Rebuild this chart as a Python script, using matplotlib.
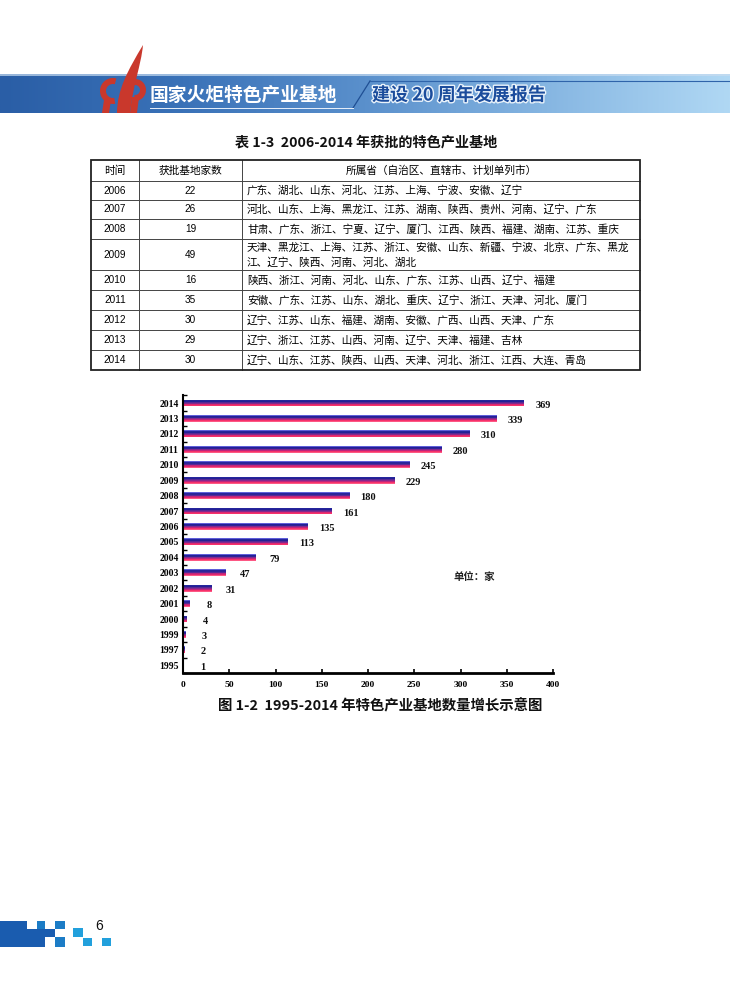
import numpy as np
import matplotlib
matplotlib.use("Agg")
import matplotlib.pyplot as plt
from matplotlib.patches import Rectangle, Wedge, PathPatch, Polygon
from matplotlib.path import Path
from matplotlib.colors import LinearSegmentedColormap
import matplotlib.patheffects as pe

plt.rcParams['font.family'] = ['Noto Sans CJK SC', 'DejaVu Sans']

# ---- chart data: cumulative number of bases ----
years = ['1995', '1997', '1999', '2000', '2001', '2002', '2003', '2004', '2005',
         '2006', '2007', '2008', '2009', '2010', '2011', '2012', '2013', '2014']
totals = [1, 2, 3, 4, 8, 31, 47, 79, 113, 135, 161, 180, 229, 245, 280, 310, 339, 369]
x_ticks = [0, 50, 100, 150, 200, 250, 300, 350, 400]

# ---- table data: bases approved 2006-2014 ----
tbl_header = ['时间', '获批基地家数', '所属省（自治区、直辖市、计划单列市）']
tbl_years = ['2006', '2007', '2008', '2009', '2010', '2011', '2012', '2013', '2014']
tbl_counts = ['22', '26', '19', '49', '16', '35', '30', '29', '30']
tbl_provinces = [
    '广东、湖北、山东、河北、江苏、上海、宁波、安徽、辽宁',
    '河北、山东、上海、黑龙江、江苏、湖南、陕西、贵州、河南、辽宁、广东',
    '甘肃、广东、浙江、宁夏、辽宁、厦门、江西、陕西、福建、湖南、江苏、重庆',
    '天津、黑龙江、上海、江苏、浙江、安徽、山东、新疆、宁波、北京、广东、黑龙江、辽宁、陕西、河南、河北、湖北',
    '陕西、浙江、河南、河北、山东、广东、江苏、山西、辽宁、福建',
    '安徽、广东、江苏、山东、湖北、重庆、辽宁、浙江、天津、河北、厦门',
    '辽宁、江苏、山东、福建、湖南、安徽、广西、山西、天津、广东',
    '辽宁、浙江、江苏、山西、河南、辽宁、天津、福建、吉林',
    '辽宁、山东、江苏、陕西、山西、天津、河北、浙江、江西、大连、青岛',
]

W, H = 730, 984
fig = plt.figure(figsize=(W / 100, H / 100), dpi=100)
fig.patch.set_facecolor('white')

# page layer in pixel coordinates (origin top-left)
pg = fig.add_axes([0, 0, 1, 1], zorder=0)
pg.set_xlim(0, W)
pg.set_ylim(H, 0)
pg.axis('off')

# ---------------- running header ----------------
band = LinearSegmentedColormap.from_list(
    'band', ['#2a5ea6', '#3a72b8', '#5a90cc', '#86b6e2', '#b0d8f4'])
grad = np.linspace(0, 1, 256).reshape(1, -1)
pg.imshow(grad, cmap=band, extent=(0, W, 113, 74), aspect='auto', zorder=1)
pg.add_patch(Rectangle((0, 74), W, 2, color='#c8dcf0', alpha=0.7, zorder=2, lw=0))
# slanted divider and rules
pg.plot([353, 370], [108, 81], color='#1f4f94', lw=0.9, zorder=3)
pg.plot([370, W], [81, 81], color='#2f64aa', lw=0.8, zorder=3)
pg.plot([150, 353], [108, 108], color='#e8f0fa', lw=0.7, zorder=3)

# torch logo
red = '#c9382c'
flame = Path([(117, 113),
              (117, 90), (128, 70), (143, 45),
              (141, 66), (133, 84), (130, 113),
              (117, 113)],
             [Path.MOVETO, Path.CURVE4, Path.CURVE4, Path.CURVE4,
              Path.CURVE4, Path.CURVE4, Path.CURVE4, Path.CLOSEPOLY])
pg.add_patch(PathPatch(flame, fc=red, ec='none', zorder=4))
pg.add_patch(Wedge((113, 91), 13, 80, 285, width=6, fc=red, ec='none', zorder=4))
pg.add_patch(Wedge((135, 90), 11, -110, 95, width=6, fc=red, ec='none', zorder=4))
pg.add_patch(Polygon([(104, 100), (111, 100), (109, 113), (102, 113)],
                     closed=True, fc=red, ec='none', zorder=4))
pg.add_patch(Polygon([(132, 97), (139, 97), (137, 113), (130, 113)],
                     closed=True, fc=red, ec='none', zorder=4))

pg.text(150, 95, '国家火炬特色产业基地', color='white', fontsize=13.5,
        fontweight='bold', va='center', ha='left', zorder=5)
pg.text(372, 95, '建设 20 周年发展报告', color='#1b4c9c', fontsize=13,
        fontweight='bold', va='center', ha='left', zorder=5,
        path_effects=[pe.withStroke(linewidth=2, foreground='#eaf3fb')])

# ---------------- table ----------------
pg.text(366, 143, '表 1-3  2006-2014 年获批的特色产业基地', fontsize=10.2,
        fontweight='bold', ha='center', va='center', color='#111111')

col_x = [91, 139, 242, 640]
row_y = [160, 181, 200, 219, 239, 270, 290, 310, 330, 350, 370]
for yv in row_y[1:-1]:
    pg.plot([col_x[0], col_x[-1]], [yv, yv], color='#444444', lw=0.7, zorder=3)
for xv in col_x[1:-1]:
    pg.plot([xv, xv], [row_y[0], row_y[-1]], color='#444444', lw=0.7, zorder=3)
pg.add_patch(Rectangle((col_x[0], row_y[0]), col_x[-1] - col_x[0],
                       row_y[-1] - row_y[0], fill=False, ec='#222222',
                       lw=1.3, zorder=4))

cell_fs = 7.7
num_fs = 7.2
hy = (row_y[0] + row_y[1]) / 2
pg.text((col_x[0] + col_x[1]) / 2, hy, tbl_header[0], fontsize=cell_fs,
        ha='center', va='center')
pg.text((col_x[1] + col_x[2]) / 2, hy, tbl_header[1], fontsize=cell_fs,
        ha='center', va='center')
pg.text((col_x[2] + col_x[3]) / 2, hy, tbl_header[2], fontsize=cell_fs,
        ha='center', va='center')

line_chars = 36
for i, (yr, cnt, prov) in enumerate(zip(tbl_years, tbl_counts, tbl_provinces)):
    top, bot = row_y[i + 1], row_y[i + 2]
    cy = (top + bot) / 2
    pg.text((col_x[0] + col_x[1]) / 2, cy, yr, fontsize=num_fs,
            ha='center', va='center', family=['Liberation Sans', 'DejaVu Sans'])
    pg.text((col_x[1] + col_x[2]) / 2, cy, cnt, fontsize=num_fs,
            ha='center', va='center', family=['Liberation Sans', 'DejaVu Sans'])
    lines = [prov[k:k + line_chars] for k in range(0, len(prov), line_chars)]
    n = len(lines)
    for j, ln in enumerate(lines):
        ly = cy + (j - (n - 1) / 2) * 15
        pg.text(col_x[2] + 5, ly, ln, fontsize=cell_fs, ha='left', va='center')

# ---------------- bar chart ----------------
ax = fig.add_axes([183 / W, 1 - 673 / H, 370 / W, 278 / H], zorder=2)
ax.patch.set_alpha(0)
pos = np.arange(len(years))
bar_h = 0.44
stops = ['#7a7af5', '#1c1c92', '#2a2398', '#6a2a94', '#c4247a', '#f42a66', '#ff6a90']
cm = LinearSegmentedColormap.from_list('barfill', stops)
nsl = 10
for k in range(nsl):
    frac = (k + 0.5) / nsl
    off = bar_h / 2 - (k + 0.5) * bar_h / nsl
    ax.barh(pos + off, totals, height=bar_h / nsl, color=cm(frac), lw=0, zorder=2)

serif_b = dict(family=['Liberation Serif', 'DejaVu Serif'], fontweight='bold')
for p, v in zip(pos, totals):
    ax.annotate(str(v), (v, p), xytext=(13.5, -1.5), textcoords='offset points',
                ha='center', va='center', fontsize=7.5, color='#111111', **serif_b)

ax.set_xlim(0, 400)
ax.set_ylim(-0.39, len(years) - 0.48)
ax.set_xticks(x_ticks)
ax.set_xticklabels([str(t) for t in x_ticks], fontsize=6.8, **serif_b)
ax.set_yticks(pos)
ax.set_yticklabels(years, fontsize=7, **serif_b)
ax.set_yticks(np.arange(len(years) + 1) - 0.5, minor=True)
ax.tick_params(axis='y', which='major', length=0, pad=3)
ax.tick_params(axis='y', which='minor', direction='in', length=3, width=1)
ax.tick_params(axis='x', direction='in', length=3, width=1.2, pad=6)
for s in ['top', 'right']:
    ax.spines[s].set_visible(False)
ax.spines['left'].set_linewidth(1.5)
ax.spines['bottom'].set_linewidth(2)

pg.text(474, 577, '单位：家', fontsize=7.5, fontweight='bold', ha='center',
        va='center', color='#222222')
pg.text(380, 706, '图 1-2  1995-2014 年特色产业基地数量增长示意图', fontsize=10.4,
        fontweight='bold', ha='center', va='center', color='#111111')

# ---------------- footer ----------------
blue_dk = '#1a5caf'
blue_md = '#1c7cc6'
blue_lt = '#22a0dc'
foot = [(0, 921, 27, 8, blue_dk), (37, 921, 8, 8, blue_md), (55, 921, 10, 8, blue_md),
        (0, 929, 55, 8, blue_dk), (0, 937, 45, 10, blue_dk), (55, 937, 10, 10, blue_md),
        (73, 928, 10, 9, blue_lt), (83, 938, 9, 8, blue_lt), (102, 938, 9, 8, blue_lt)]
for fx, fy, fw, fh, fc in foot:
    pg.add_patch(Rectangle((fx, fy), fw, fh, fc=fc, ec='none', zorder=3))
pg.text(99, 926, '6', fontsize=10, ha='center', va='center',
        family=['Liberation Sans', 'DejaVu Sans'], color='#111111')

fig.savefig('out.png', dpi=100, facecolor='white')
